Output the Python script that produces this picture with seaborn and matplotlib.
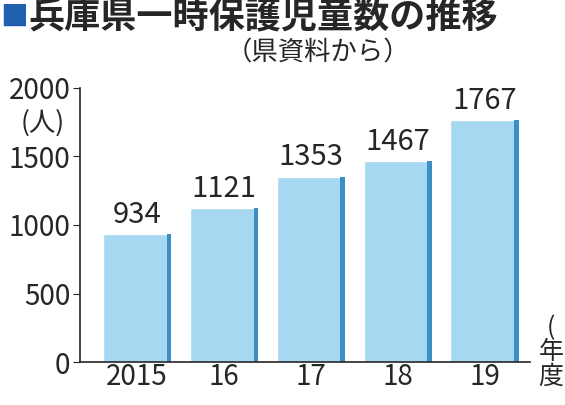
import matplotlib
matplotlib.use("Agg")
import matplotlib.pyplot as plt
from matplotlib.patches import Rectangle
import seaborn as sns
import pandas as pd

years = ["2015", "16", "17", "18", "19"]
counts = [934, 1121, 1353, 1467, 1767]
yticks = [0, 500, 1000, 1500, 2000]

sns.set_style("white")
plt.rcParams['font.family'] = ['Noto Sans CJK JP', 'DejaVu Sans']

df = pd.DataFrame({"year": years, "count": counts})

fig = plt.figure(figsize=(5.65, 4.05), dpi=100)
ax = fig.add_axes([0.142, 0.106, 0.796, 0.677])
sns.barplot(data=df, x="year", y="count", color="#a6d8f2", saturation=1,
            width=0.79, ax=ax)

# darker strip on the right side of each bar
for p in ax.patches[:len(counts)]:
    w = p.get_width()
    ax.add_patch(Rectangle((p.get_x() + w * 0.93, 0), w * 0.07, p.get_height(),
                           color="#3d8ec4", lw=0))
    ax.text(p.get_x() + w / 2, p.get_height() + 30, f"{int(p.get_height())}",
            ha="center", va="bottom", fontsize=21)

ax.set_xlim(-0.655, 4.52)
ax.set_ylim(0, 2000)
ax.set_yticks(yticks)
ax.tick_params(axis="y", labelsize=20, length=5, direction="out", left=True, pad=2)
ax.tick_params(axis="x", labelsize=20, length=0, pad=0)
ax.set_xlabel("")
ax.set_ylabel("")
for s in ["top", "right"]:
    ax.spines[s].set_visible(False)
ax.spines["left"].set_linewidth(1.2)
ax.spines["bottom"].set_linewidth(1.2)

fig.text(0.075, 0.695, "(人)", fontsize=19, ha="center", va="center")
fig.text(0.975, 0.13, "(\n年\n度", fontsize=18, ha="center", va="center",
         linespacing=0.9)
fig.text(0.0, 0.955, "■", fontsize=20, color="#1f5fae", va="center")
fig.text(0.05, 0.955, "兵庫県一時保護児童数の推移", fontsize=26,
         fontweight="bold", va="center")
fig.text(0.4, 0.87, "（県資料から）", fontsize=19, va="center")

fig.savefig("out.png", dpi=100)
